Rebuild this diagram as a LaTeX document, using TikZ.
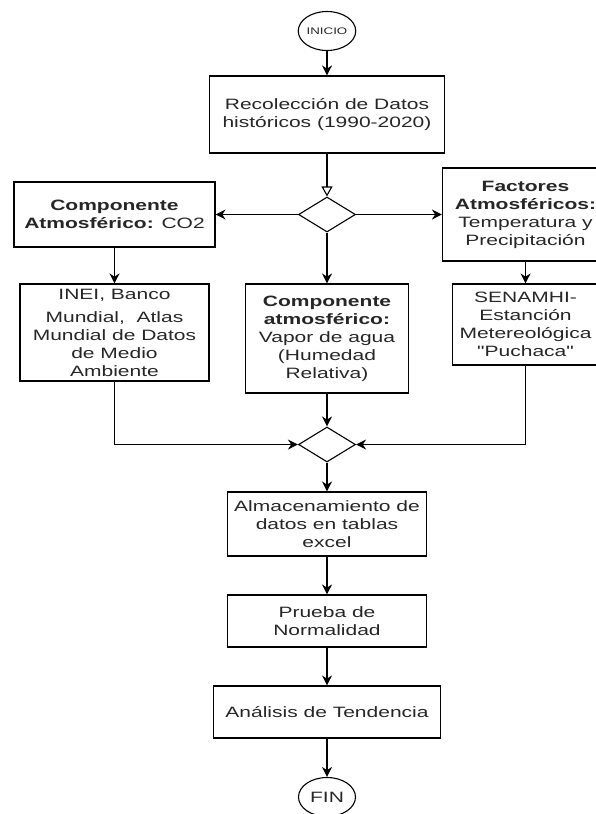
\documentclass[tikz,border=0pt]{standalone}
\usepackage{fontspec}
\setmainfont[FakeStretch=1.4,Ligatures=TeXOff]{Liberation Sans}
\usetikzlibrary{shapes.geometric,arrows.meta}
\begin{document}
\begin{tikzpicture}[x=1pt,y=-1pt,
  caja/.style={rectangle,draw,line width=1.1pt,align=center,inner sep=2pt,font=\fontsize{15}{18}\selectfont,text=black!85},
  rombo/.style={diamond,draw,line width=1.1pt,minimum width=57pt,minimum height=35pt,inner sep=0pt},
  terminal/.style={ellipse,draw,line width=1.1pt,minimum width=55pt,minimum height=39pt,inner sep=0pt,text=black!85},
  flecha/.style={line width=1.1pt,-{Stealth[length=10pt,width=10pt]}}]
  \useasboundingbox (0,0) rectangle (595,814);
  \node[terminal,font=\fontsize{9.5}{11}\selectfont] (inicio) at (327,31) {INICIO};
  \node[caja,minimum width=235pt,minimum height=77pt] (recol) at (327,114.5) {Recolección de Datos\\históricos (1990-2020)};
  \node[rombo] (dec1) at (327,214.5) {};
  \node[caja,minimum width=201pt,minimum height=65pt] (co2) at (114.5,214.5) {\textbf{Componente}\\\textbf{Atmosférico:} CO2};
  \node[caja,minimum width=166pt,minimum height=93pt] (fact) at (525.5,214.5) {\textbf{Factores}\\\textbf{Atmosféricos:}\\Temperatura y\\Precipitación};
  \node[caja,minimum width=189pt,minimum height=97pt] (inei) at (114.5,332.5) {INEI, Banco\\[5pt]Mundial,~~Atlas\\Mundial de Datos\\de Medio\\Ambiente};
  \node[caja,minimum width=163pt,minimum height=109pt] (vapor) at (327,338.5) {\textbf{Componente}\\\textbf{atmosférico:}\\Vapor de agua\\(Humedad\\Relativa)};
  \node[caja,minimum width=146pt,minimum height=81pt] (senamhi) at (525.5,324.5) {SENAMHI-\\Estanción\\Metereológica\\"Puchaca"};
  \node[rombo] (dec2) at (327,444.5) {};
  \node[caja,minimum width=199pt,minimum height=64pt] (alma) at (327,524) {Almacenamiento de\\datos en tablas\\excel};
  \node[caja,minimum width=199pt,minimum height=52pt] (prueba) at (327,621) {Prueba de\\Normalidad};
  \node[caja,minimum width=227pt,minimum height=52pt] (analisis) at (327,712) {Análisis de Tendencia};
  \node[terminal,minimum width=57pt,font=\fontsize{15}{18}\selectfont] (fin) at (327,797) {FIN};
  \draw[flecha] (inicio) -- (recol);
  \draw[line width=1.1pt,-{Triangle[open,length=10pt,width=11pt]}] (recol) -- (dec1);
  \draw[flecha] (dec1) -- (co2);
  \draw[flecha] (dec1) -- (fact);
  \draw[flecha] (dec1) -- (vapor);
  \draw[flecha] (co2) -- (inei);
  \draw[flecha] (fact) -- (senamhi);
  \draw[flecha] (inei) |- (dec2);
  \draw[flecha] (senamhi) |- (dec2);
  \draw[flecha] (vapor) -- (dec2);
  \draw[flecha] (dec2) -- (alma);
  \draw[flecha] (alma) -- (prueba);
  \draw[flecha] (prueba) -- (analisis);
  \draw[flecha] (analisis) -- (fin);
\end{tikzpicture}
\end{document}
